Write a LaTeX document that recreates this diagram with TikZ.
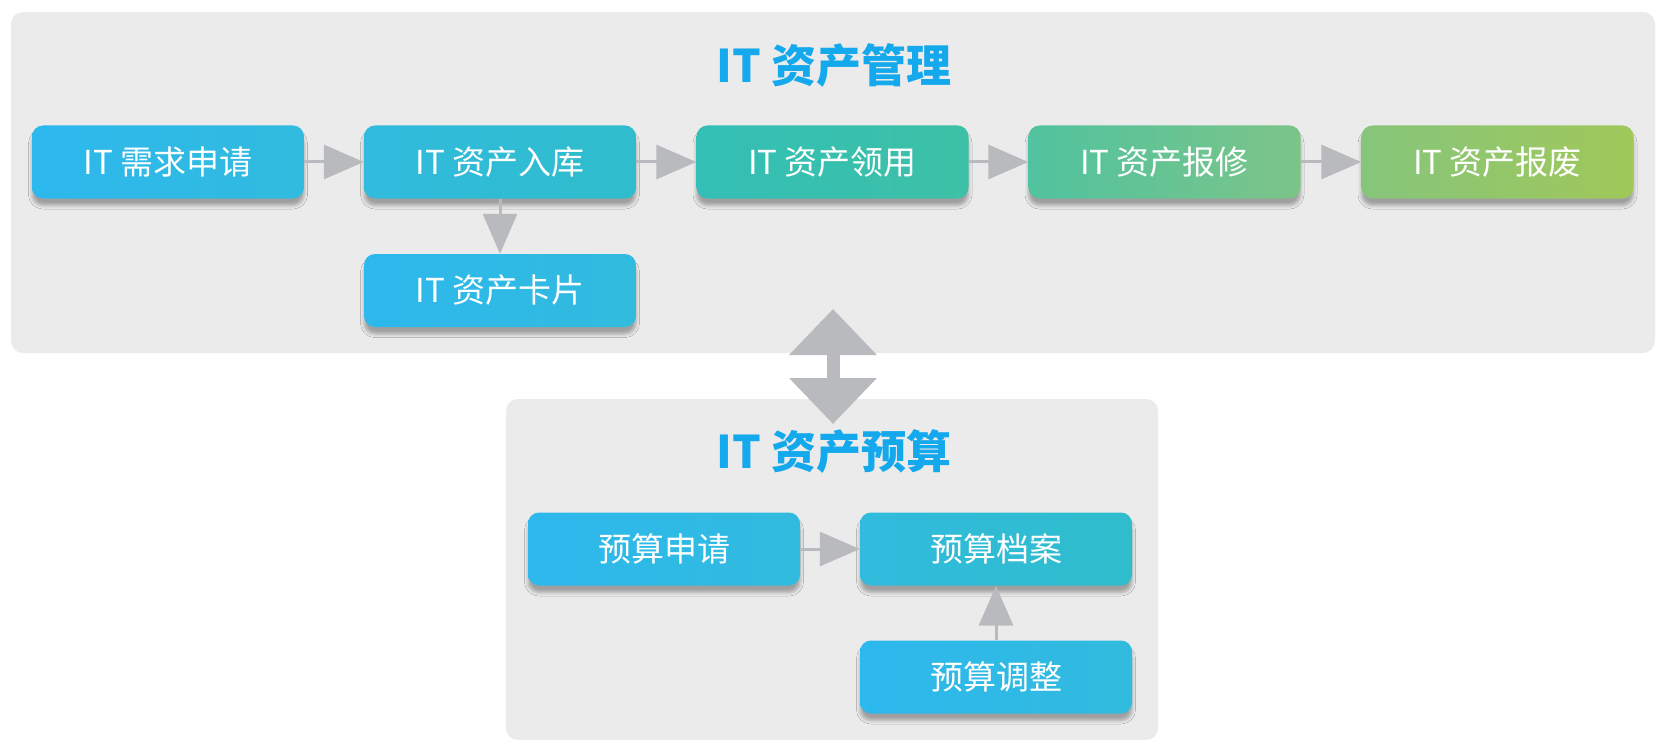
\documentclass[tikz,border=0pt]{standalone}
\usepackage{fontspec}
\newfontfamily\cjk{Noto Sans CJK SC}
\usetikzlibrary{arrows.meta,shadows.blur}
\definecolor{panelbg}{HTML}{EBEBEB}
\definecolor{arrgray}{HTML}{B9BABE}
\definecolor{titleblue}{HTML}{14A8EC}
\definecolor{cA}{HTML}{2DB8EE}
\definecolor{cB}{HTML}{31BBDE}
\definecolor{cC}{HTML}{2FBCCB}
\definecolor{cD}{HTML}{33BFB6}
\definecolor{cE}{HTML}{3DC1A6}
\definecolor{cF}{HTML}{50C39F}
\definecolor{cG}{HTML}{7CC488}
\definecolor{cH}{HTML}{86C57B}
\definecolor{cI}{HTML}{A0C85A}
\tikzset{
  panel/.style={fill=panelbg, rounded corners=12pt, draw=none},
  box/.style={rounded corners=11pt, minimum width=272pt, minimum height=73pt,
    inner sep=0pt, text=white, font=\cjk\fontsize{33}{38}\selectfont,
    blur shadow={shadow xshift=0pt, shadow yshift=-7pt, shadow blur radius=3.5pt, shadow blur extra rounding=2pt, shadow opacity=32}},
  grad/.style 2 args={left color=#1, right color=#2},
  title/.style={text=titleblue, font=\cjk\bfseries\fontsize{45}{52}\selectfont},
  flow/.style={draw=arrgray, line width=3pt, -{Triangle[length=40pt,width=34pt]}},
  dbl/.style={draw=arrgray, line width=13pt, {Triangle[length=46pt,width=85pt]}-{Triangle[length=46pt,width=85pt]}}
}
\begin{document}
\begin{tikzpicture}[x=1pt,y=-1pt]
\useasboundingbox (0,0) rectangle (1671,749);
% panels
\path[panel] (11,12) rectangle (1655,353);
\path[panel] (506,399) rectangle (1158,740);
% titles
\node[title] (t1) at (834,66) {IT 资产管理};
\node[title] (t2) at (834,452) {IT 资产预算};
% top row
\node[box, grad={cA}{cB}] (b1) at (168,162) {IT 需求申请};
\node[box, grad={cB}{cC}] (b2) at (500,162) {IT 资产入库};
\node[box, grad={cD}{cE}] (b3) at (832.5,162) {IT 资产领用};
\node[box, grad={cF}{cG}] (b4) at (1164.5,162) {IT 资产报修};
\node[box, grad={cH}{cI}] (b5) at (1497.5,162) {IT 资产报废};
\node[box, grad={cA}{cB}] (card) at (500,290.5) {IT 资产卡片};
% budget
\node[box, grad={cA}{cB}] (p1) at (664,549) {预算申请};
\node[box, grad={cB}{cC}] (p2) at (996,549) {预算档案};
\node[box, grad={cA}{cB}] (p3) at (996,677) {预算调整};
% connectors
\draw[flow] (b1) -- (b2);
\draw[flow] (b2) -- (b3);
\draw[flow] (b3) -- (b4);
\draw[flow] (b4) -- (b5);
\draw[flow] (b2) -- (card);
\draw[flow] (p1) -- (p2);
\draw[flow] (p3) -- (p2);
\coordinate (u) at (833,309);
\coordinate (d) at (833,424);
\draw[dbl] (u) -- (d);
\end{tikzpicture}
\end{document}
